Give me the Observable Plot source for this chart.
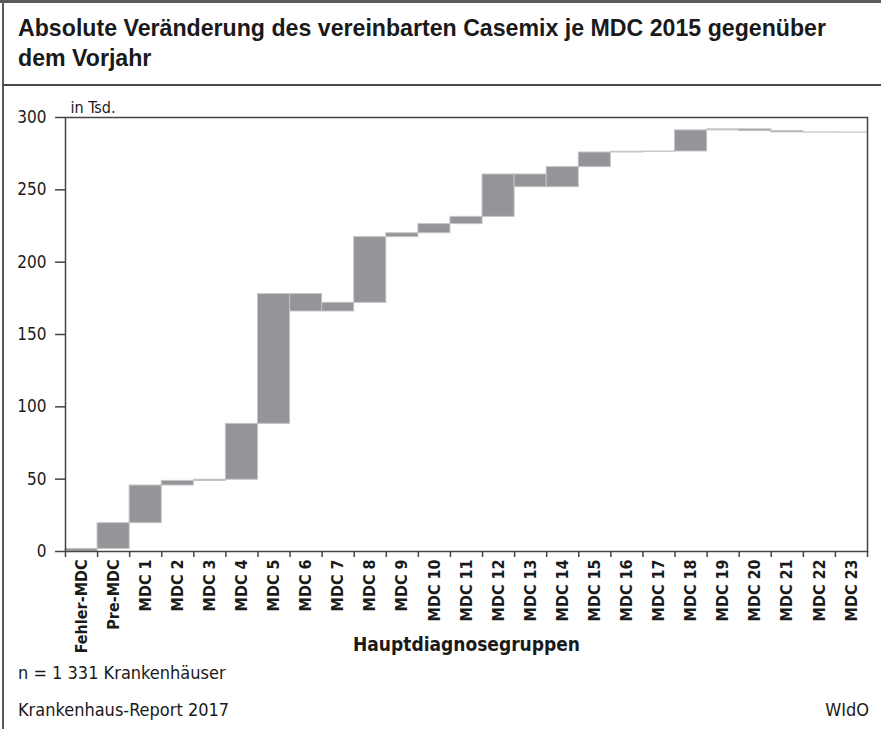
<!DOCTYPE html>
<html>
<head>
<meta charset="utf-8">
<script src="https://cdn.jsdelivr.net/npm/d3@7"></script>
<script src="https://cdn.jsdelivr.net/npm/@observablehq/plot@0.6"></script>
<style>
  html, body { margin: 0; padding: 0; background: #fff; }
  #wrap { position: relative; width: 881px; height: 729px; overflow: hidden; background: #fff; color: #1a1a1a;
          font-family: "DejaVu Sans Condensed", "DejaVu Sans", sans-serif; font-stretch: condensed; }
  #topline { position: absolute; left: 0; top: 0; width: 881px; height: 3px; background: #5a5a5a; }
  #leftline { position: absolute; left: 2px; top: 0; width: 2px; height: 729px; background: #5a5a5a; }
  #divider { position: absolute; left: 2px; top: 84px; width: 879px; height: 2px; background: #4a4a4a; }
  #title { position: absolute; left: 18px; top: 13px; font-family: "Liberation Sans", Arial, sans-serif; font-stretch: normal;
           font-size: 24px; line-height: 30px; font-weight: bold; white-space: nowrap; transform-origin: 0 0; }
  #chart { position: absolute; left: 0; top: 95px; }
  .foot { position: absolute; font-size: 18px; }
</style>
</head>
<body>
<div id="wrap">
  <div id="topline"></div>
  <div id="leftline"></div>
  <div id="title"><span id="t1">Absolute Veränderung des vereinbarten Casemix je MDC 2015 gegenüber</span><br>dem Vorjahr</div>
  <div id="divider"></div>
  <div id="chart"></div>
  <div class="foot" style="left:18px; top:662px;">n = 1 331 Krankenhäuser</div>
  <div class="foot" style="left:18px; top:699px;">Krankenhaus-Report 2017</div>
  <div class="foot" style="right:12px; top:699px;">WIdO</div>
</div>
<script>
const categories = ["Fehler-MDC", "Pre-MDC", "MDC 1", "MDC 2", "MDC 3", "MDC 4", "MDC 5", "MDC 6", "MDC 7",
  "MDC 8", "MDC 9", "MDC 10", "MDC 11", "MDC 12", "MDC 13", "MDC 14", "MDC 15", "MDC 16", "MDC 17",
  "MDC 18", "MDC 19", "MDC 20", "MDC 21", "MDC 22", "MDC 23"];
// absolute change per MDC, in thousands
const changes = [1.8, 17.8, 26.0, 3.2, 0.8, 38.6, 89.7, -12.0, 6.0, 45.4, 2.7, 6.3, 5.0, 29.3, -8.8,
  13.9, 10.1, 0.5, 0.2, 14.6, 0.7, -1.2, -0.9, -0.1, -0.1];
const yTicks = [0, 50, 100, 150, 200, 250, 300];
const unitLabel = "in Tsd.";
const xTitle = "Hauptdiagnosegruppen";

let cum = 0;
const rows = categories.map((c, i) => {
  const start = cum;
  cum += changes[i];
  return { i, category: c, start, end: cum };
});

const font = '"DejaVu Sans Condensed", "DejaVu Sans", sans-serif';

const chart = Plot.plot({
  width: 881,
  height: 560,
  marginLeft: 65,
  marginRight: 14,
  marginTop: 22,
  marginBottom: 104,
  style: { fontFamily: font, fontStretch: "condensed", color: "#1a1a1a", background: "transparent", overflow: "visible" },
  x: { domain: [0, categories.length], axis: null },
  y: { domain: [0, 300], axis: null },
  marks: [
    Plot.rect(rows, { x1: "i", x2: d => d.i + 1, y1: "start", y2: "end", fill: "#939598", stroke: "#c4c4c6", strokeWidth: 1 }),
    Plot.frame({ stroke: "#444", strokeWidth: 1.5 }),
    Plot.axisY({ ticks: yTicks, tickSize: 10, tickPadding: 9, fontSize: 17, stroke: "#444", strokeWidth: 1.5, label: null }),
    Plot.axisX({ ticks: d3.range(categories.length + 1), tickSize: 6, tickFormat: () => "", stroke: "#444", strokeWidth: 1.5, label: null }),
    Plot.axisX({ ticks: d3.range(categories.length).map(i => i + 0.5), tickSize: 0, tickPadding: 8, tickRotate: -90,
      tickFormat: v => categories[Math.floor(v)], fontSize: 16, fontWeight: "bold", label: null }),
    Plot.text([unitLabel], { frameAnchor: "top-left", text: d => d, dx: 5, dy: -5, lineAnchor: "bottom", textAnchor: "start", fontSize: 16 }),
    Plot.text([xTitle], { frameAnchor: "bottom", text: d => d, dy: 99, lineAnchor: "bottom", fontSize: 19, fontWeight: "bold" })
  ]
});
document.getElementById("chart").appendChild(chart);

// fit the first title line to the reference width
const t1 = document.getElementById("t1");
const w = t1.getBoundingClientRect().width;
if (w > 0) document.getElementById("title").style.transform = `scaleX(${808 / w})`;
</script>
</body>
</html>
